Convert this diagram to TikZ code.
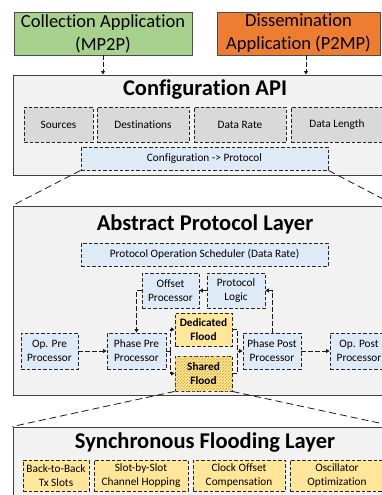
\documentclass[tikz,border=0pt]{standalone}
\usepackage{fontspec}
\setmainfont{Carlito}[Ligatures=CommonOff]
\usetikzlibrary{arrows.meta,patterns,calc}

\definecolor{appgreen}{HTML}{A9D18E}
\definecolor{apporange}{HTML}{ED7D31}
\definecolor{layergray}{HTML}{F2F2F2}
\definecolor{paramgray}{HTML}{D9D9D9}
\definecolor{procblue}{HTML}{DEEBF7}
\definecolor{floodyellow}{HTML}{FFE699}
\definecolor{hatchyellow}{HTML}{C9A227}

\tikzset{
  app/.style={draw=black!70, line width=0.9pt, inner sep=0pt, align=center,
    font=\fontsize{18.5}{23}\selectfont, minimum height=43},
  layer/.style={draw=black!75, fill=layergray, line width=1pt, inner sep=0pt,
    minimum width=382},
  layertitle/.style={font=\fontsize{22.5}{26}\selectfont\bfseries, inner sep=0pt},
  dbox/.style={draw=black!85, dash pattern=on 3.5pt off 2pt, line width=0.9pt,
    inner sep=0pt, align=center, font=\fontsize{11.3}{13.8}\selectfont},
  param/.style={dbox, fill=paramgray, minimum height=35},
  proc/.style={dbox, fill=procblue, minimum height=36},
  flood/.style={dbox, fill=floodyellow, font=\fontsize{11.3}{13.8}\selectfont\bfseries},
  feature/.style={dbox, fill=floodyellow, minimum height=31},
  flow/.style={draw=black!90, dash pattern=on 4.5pt off 2.5pt, line width=1pt,
    -{Triangle[length=3.5pt,width=4pt]}},
  dline/.style={draw=black!90, dash pattern=on 4.5pt off 2.5pt, line width=1pt},
  zoomline/.style={draw=black!90, dash pattern=on 7pt off 4pt, line width=0.8pt},
}

\begin{document}
\begin{tikzpicture}[x=1pt, y=-1pt]
  %%%%% START %%%%%
  \useasboundingbox (0,0) rectangle (382,495);
  \clip (0,0) rectangle (382,495);

  % applications
  \node[app, fill=appgreen, minimum width=178] (col) at (103,33.5)
    {Collection Application\\(MP2P)};
  \node[app, fill=apporange, minimum width=163] (dis) at (298.5,33.5)
    {Dissemination\\Application (P2MP)};

  % configuration api
  \node[layer, minimum height=100] (api) at (204,125) {};
  \node[layertitle] (apititle) at (205,90) {Configuration API};
  \node[param, minimum width=69] (src) at (58.5,124.5) {Sources};
  \node[param, minimum width=92] (dst) at (143,124.5) {Destinations};
  \node[param, minimum width=92] (rate) at (240,124.5) {Data Rate};
  \node[param, minimum width=92] (len) at (337,124.5) {Data Length};
  \node[dbox, fill=procblue, minimum width=247, minimum height=23] (cp) at (204.5,158.5)
    {Configuration -> Protocol};

  \coordinate (dx) at (306,0);
  \draw[flow] (col.south) -- (col.south |- api.north);
  \draw[flow] (dis.south -| dx) -- (api.north -| dx);

  % abstract protocol layer
  \node[layer, minimum height=189] (apl) at (204,300.5) {};
  \node[layertitle] (apltitle) at (205,224) {Abstract Protocol Layer};
  \node[dbox, fill=procblue, minimum width=247, minimum height=23] (sched) at (204.5,254.5)
    {Protocol Operation Scheduler (Data Rate)};
  \node[proc, minimum width=57, minimum height=35] (off) at (170.5,290.5) {Offset\\Processor};
  \node[proc, minimum width=58, minimum height=35] (logic) at (236,290.5) {Protocol\\Logic};
  \node[flood, minimum width=57, minimum height=33] (ded) at (203.5,329.5) {Dedicated\\Flood};
  \node[flood, minimum width=57, minimum height=35,
    postaction={pattern=north east lines, pattern color=hatchyellow}] (sh) at (203.5,373.5)
    {Shared\\Flood};
  \node[proc, minimum width=57] (opre) at (49.5,351) {Op. Pre\\Processor};
  \node[proc, minimum width=59] (ppre) at (136.5,351) {Phase Pre\\Processor};
  \node[proc, minimum width=58] (ppost) at (272,351) {Phase Post\\Processor};
  \node[proc, minimum width=58] (opost) at (359,351) {Op. Post\\Processor};

  \draw[flow] (opre) -- (ppre);
  \draw[flow] (ppost) -- (opost);
  \draw[flow] (off.west) -| (ppre.north);
  \draw[flow] (logic.west) -- (off.east);
  \draw[flow] (ppost.north) |- (logic.east);
  \draw[dline] (ppre.east) -- ++(4,0) coordinate (lb);
  \draw[flow] (lb) |- (ded.west);
  \draw[flow] (lb) |- (sh.west);
  \coordinate (rb) at (237.5,0);
  \draw[dline] (ded.east) -| (rb |- ppost.west);
  \draw[dline] (sh.east) -| (rb |- ppost.west);
  \draw[flow] (rb |- ppost.west) -- (ppost.west);

  % synchronous flooding layer
  \node[layer, minimum height=100] (sync) at (204,477) {};
  \node[layertitle] (synctitle) at (205,443) {Synchronous Flooding Layer};
  \node[feature, minimum width=66] (b2b) at (56,475.5) {Back-to-Back\\Tx Slots};
  \node[feature, minimum width=94] (hop) at (141,475.5) {Slot-by-Slot\\Channel Hopping};
  \node[feature, minimum width=92] (clk) at (239,475.5) {Clock Offset\\Compensation};
  \node[feature, minimum width=94] (osc) at (337,475.5) {Oscillator\\Optimization};

  % zoom lines
  \draw[zoomline] (cp.south west) -- (apl.north west);
  \draw[zoomline] (cp.south east) -- (apl.north east);
  \draw[zoomline] (sh.south west) -- (sync.north west);
  \draw[zoomline] (sh.south east) -- (sync.north east);
  %%%%% END %%%%%
\end{tikzpicture}
\end{document}
